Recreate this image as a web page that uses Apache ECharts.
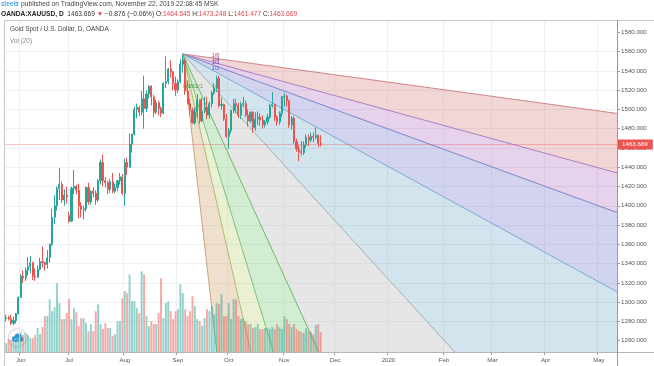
<!DOCTYPE html>
<html><head><meta charset="utf-8">
<script src="https://cdn.jsdelivr.net/npm/echarts@6/dist/echarts.min.js"></script>
<style>html,body{margin:0;padding:0;background:#fff}#c{width:654px;height:366px}</style>
</head><body><div id="c"></div>
<script>
// ---------------- data ----------------
const startDate = '2019-05-24';
const barCount = 253;
const monthNames = ['Jan','Feb','Mar','Apr','May','Jun','Jul','Aug','Sep','Oct','Nov','Dec'];
const priceTicks = [1260,1280,1300,1320,1340,1360,1380,1400,1420,1440,1460,1480,1500,1520,1540,1560,1580];

const opens = [1283,1284,1283,1278,1281,1288,1305,1327,1325,1333,1337,1341,1327,1326,1334,1342,1341,1339,1346,1360,
1388,1400,1418,1422,1406,1411,1390,1384,1418,1420,1416,1400,1396,1397,1419,1404,1415,1413,1406,1426,
1445,1426,1424,1417,1425,1415,1419,1426,1430,1413,1445,1440,1464,1474,1500,1502,1497,1511,1501,1516,
1524,1513,1497,1507,1501,1496,1527,1529,1542,1539,1527,1520,1529,1547,1551,1519,1506,1499,1486,1497,
1510,1488,1498,1502,1494,1506,1517,1522,1532,1504,1505,1490,1472,1478,1499,1506,1504,1494,1505,1506,
1494,1488,1497,1481,1490,1492,1489,1484,1487,1492,1504,1505,1492,1487,1496,1513,1514,1509,1484,1491,
1467,1459,1456,1455,1463,1471,1468,1472,1471,1473,1464.545];
const highs = [1287,1286,1287,1285,1289,1306,1329,1333,1336,1347,1348,1342,1335,1338,1346,1358,1342,1354,1361,1397,
1411,1420,1439,1425,1417,1420,1394,1420,1437,1422,1423,1404,1400,1420,1424,1416,1419,1416,1428,1448,
1453,1430,1426,1428,1434,1423,1427,1434,1433,1449,1450,1475,1475,1503,1506,1504,1519,1535,1520,1525,
1525,1515,1510,1509,1503,1528,1555,1543,1551,1540,1534,1531,1552,1557,1552,1530,1511,1502,1502,1516,
1510,1512,1513,1513,1508,1519,1527,1535,1535,1512,1506,1495,1481,1500,1511,1511,1507,1508,1513,1509,
1500,1498,1498,1497,1498,1496,1494,1489,1495,1506,1518,1506,1494,1498,1514,1517,1515,1510,1493,1493,
1470,1463,1467,1467,1474,1474,1476,1476,1481,1474,1473.248];
const lows = [1280,1281,1276,1276,1278,1287,1304,1320,1322,1328,1330,1323,1322,1325,1333,1336,1333,1335,1341,1358,
1381,1395,1406,1403,1400,1402,1382,1383,1412,1412,1387,1388,1386,1394,1401,1401,1409,1401,1404,1422,
1420,1419,1412,1413,1413,1413,1415,1422,1411,1400,1432,1440,1455,1473,1491,1493,1494,1480,1497,1511,
1504,1492,1495,1494,1492,1495,1522,1526,1533,1520,1514,1517,1527,1538,1515,1505,1494,1485,1484,1491,
1485,1487,1496,1490,1490,1502,1515,1518,1502,1500,1488,1470,1459,1475,1496,1496,1491,1490,1502,1492,
1482,1486,1476,1478,1484,1483,1480,1481,1484,1490,1502,1488,1483,1484,1492,1503,1503,1481,1479,1464,
1456,1446,1452,1453,1460,1462,1466,1466,1469,1461,1461.477];
const closes = [1284,1283,1278,1281,1288,1305,1327,1325,1333,1337,1341,1327,1326,1334,1342,1341,1339,1346,1360,1388,
1400,1418,1422,1406,1411,1409,1384,1418,1420,1416,1400,1396,1397,1419,1404,1415,1413,1406,1426,1445,
1426,1424,1417,1425,1415,1419,1426,1430,1413,1445,1440,1464,1474,1500,1502,1497,1511,1501,1516,1524,
1513,1497,1507,1501,1496,1527,1529,1542,1539,1527,1520,1529,1547,1551,1519,1506,1499,1486,1497,1510,
1488,1498,1502,1494,1506,1517,1522,1532,1504,1505,1490,1472,1478,1499,1506,1504,1494,1505,1506,1494,
1488,1497,1481,1490,1492,1489,1484,1487,1492,1504,1505,1492,1487,1496,1513,1514,1509,1484,1491,1467,
1459,1456,1455,1463,1471,1468,1472,1471,1473,1464.5,1463.669];
const volumes = [27,39,36,48,42,54,60,51,57,51,42,42,51,72,54,75,108,108,159,123,
135,207,147,99,99,117,159,99,132,120,78,102,102,87,63,84,63,123,144,84,
69,87,72,72,48,54,93,93,162,183,177,234,153,153,132,117,243,234,108,78,
93,84,84,117,222,102,147,153,123,99,123,129,204,177,129,108,123,168,138,99,
93,78,102,129,123,138,114,147,144,174,108,108,147,99,159,159,108,99,102,93,
84,84,72,75,84,69,69,72,72,69,75,69,84,75,69,108,99,84,75,84,
69,63,60,57,72,63,60,54,81,84,60];

const lastPrice = 1463.669;
// Gann fan: anchor at the Sep 4 high, 1x1 slope in price per bar
const fanOriginDate = '2019-09-04';
const fanOriginPrice = 1557.5;
const fanSlope = 2.75;
const fanCtrlBars = 13.5;
const fanRatios = [8,4,3,2,1,1/2,1/3,1/4,1/8];
const fanNames = ['8/1','4/1','3/1','2/1','1/1','1/2','1/3','1/4','1/8'];
const fanLineColors = ['#c8a47e','#b0ba72','#7cc27c','#6cb86c','#a2b0b4','#7fa9cc','#7d84cc','#ab7fc2','#cf8585'];
const fanLabelColors = ['#5aa85a','#5aa85a','#5aa85a','#5aa85a','#5aa85a','#4a64c8','#6a4ac0','#8a4ab0','#c04a6a'];
const fanFillColors = ['rgba(195,145,72,0.28)','rgba(178,205,92,0.28)','rgba(98,192,98,0.28)','rgba(165,165,165,0.28)',
  'rgba(92,158,192,0.28)','rgba(92,98,198,0.28)','rgba(158,85,178,0.26)','rgba(205,92,92,0.26)'];

// ---------------- layout ----------------
const PANE = {left:5, right:37, top:20, bottom:14};
const FONT = 'Liberation Sans';

function buildDates(start, n){
  const out=[]; const d=new Date(start+'T00:00:00Z');
  while(out.length<n){ const w=d.getUTCDay(); if(w!==0&&w!==6) out.push(d.toISOString().slice(0,10)); d.setUTCDate(d.getUTCDate()+1); }
  return out;
}
const dates = buildDates(startDate, barCount);
const isMonthStart = dates.map((d,i)=> i>0 && d.slice(5,7)!==dates[i-1].slice(5,7));
const fanBar = dates.indexOf(fanOriginDate);

function clipPoly(pts, xmin, ymin, xmax, ymax){
  const planes=[[0,xmin,1],[0,xmax,-1],[1,ymin,1],[1,ymax,-1]];
  let out=pts;
  for(const [ax,v,s] of planes){
    const inp=out; out=[]; if(!inp.length) break;
    for(let i=0;i<inp.length;i++){
      const a=inp[i], b=inp[(i+1)%inp.length];
      const ina=s*(a[ax]-v)>=0, inb=s*(b[ax]-v)>=0;
      if(ina) out.push(a);
      if(ina!==inb){ const t=(v-a[ax])/(b[ax]-a[ax]); out.push([a[0]+t*(b[0]-a[0]), a[1]+t*(b[1]-a[1])]); }
    }
  }
  return out;
}
function clipSeg(a,b,xmin,ymin,xmax,ymax){
  let t0=0,t1=1; const dx=b[0]-a[0], dy=b[1]-a[1];
  const p=[-dx,dx,-dy,dy], q=[a[0]-xmin,xmax-a[0],a[1]-ymin,ymax-a[1]];
  for(let i=0;i<4;i++){
    if(p[i]===0){ if(q[i]<0) return null; }
    else { const t=q[i]/p[i]; if(p[i]<0){ if(t>t1) return null; if(t>t0) t0=t; } else { if(t<t0) return null; if(t<t1) t1=t; } }
  }
  return [[a[0]+t0*dx,a[1]+t0*dy],[a[0]+t1*dx,a[1]+t1*dy]];
}

const candleData = opens.map((o,i)=>[o, closes[i], lows[i], highs[i]]);
const volData = volumes.map((v,i)=>({value:v, itemStyle:{color: closes[i]>=opens[i] ? 'rgba(38,166,154,0.5)' : 'rgba(239,83,80,0.5)'}}));

const chart = echarts.init(document.getElementById('c'), null, {renderer:'canvas'});
chart.setOption({
  animation:false,
  backgroundColor:'#fff',
  textStyle:{fontFamily:FONT},
  grid:[
    {left:PANE.left, right:PANE.right, top:13, bottom:6},
    {left:PANE.left, right:PANE.right, top:PANE.top, bottom:PANE.bottom}
  ],
  xAxis:[
    {type:'category', gridIndex:0, data:dates, show:false},
    {type:'category', gridIndex:1, data:dates,
      axisLine:{show:false},
      axisTick:{show:true, length:3, interval:(i)=>isMonthStart[i], lineStyle:{color:'#999'}},
      axisLabel:{interval:(i)=>isMonthStart[i], fontSize:6, color:'#555', margin:5, fontFamily:FONT,
        formatter:(v)=> v.slice(5,7)==='01' ? v.slice(0,4) : monthNames[+v.slice(5,7)-1]},
      splitLine:{show:true, interval:(i)=>isMonthStart[i], lineStyle:{color:'#eef0f3', width:1}}
    }
  ],
  yAxis:[
    {type:'value', gridIndex:0, position:'right', min:1240, max:1600, interval:20,
      axisLine:{show:false},
      axisTick:{show:true, length:3, customValues:priceTicks, lineStyle:{color:'#999'}},
      axisLabel:{customValues:priceTicks, fontSize:6.2, color:'#555', margin:4, fontFamily:FONT,
        formatter:(v)=> (v<=1240||v>=1600) ? '' : v.toFixed(3)},
      splitLine:{show:true, showMinLine:false, showMaxLine:false, lineStyle:{color:'#eef0f3', width:1}}
    },
    {type:'value', gridIndex:1, min:0, max:1000, show:false, splitLine:{show:false}}
  ],
  series:[
    {
      type:'custom', xAxisIndex:0, yAxisIndex:0, z:1, silent:true,
      data:[[fanBar, fanOriginPrice]], encode:{x:0,y:1},
      renderItem:function(params, api){
        const o=api.coord([fanBar, fanOriginPrice]);
        const b=api.coord([fanBar+100, fanOriginPrice]);
        const p=api.coord([fanBar, fanOriginPrice-100]);
        const bpx=(b[0]-o[0])/100, ppx=(p[1]-o[1])/100;
        const xmin=PANE.left, xmax=api.getWidth()-PANE.right, ymin=PANE.top, ymax=api.getHeight()-PANE.bottom;
        const ext=400;
        const ends=fanRatios.map(r=>[o[0]+bpx*ext, o[1]+ppx*fanSlope*r*ext]);
        const children=[];
        for(let i=0;i<ends.length-1;i++){
          const poly=clipPoly([o,ends[i],ends[i+1]],xmin,ymin,xmax,ymax);
          if(poly.length>2) children.push({type:'polygon', shape:{points:poly}, style:{fill:fanFillColors[i]}});
        }
        ends.forEach((e,i)=>{
          const s=clipSeg(o,e,xmin,ymin,xmax,ymax);
          if(s) children.push({type:'line', shape:{x1:s[0][0],y1:s[0][1],x2:s[1][0],y2:s[1][1]}, style:{stroke:fanLineColors[i], lineWidth:1}});
        });
        fanRatios.forEach((r,i)=>{
          let x,y;
          if(r<=1){ x=o[0]+bpx*fanCtrlBars; y=o[1]+ppx*fanSlope*r*fanCtrlBars; }
          else { y=o[1]+ppx*fanSlope*fanCtrlBars; x=o[0]+bpx*fanCtrlBars/r; }
          children.push({type:'text', style:{text:fanNames[i], x:x, y:y, fill:fanLabelColors[i], fontSize:5.5, fontFamily:FONT,
            textAlign:'center', textVerticalAlign:'bottom', align:'center', verticalAlign:'bottom'}});
        });
        return {type:'group', children:children};
      }
    },
    {
      type:'bar', xAxisIndex:1, yAxisIndex:1, z:2, data:volData, barWidth:'80%', silent:true
    },
    {
      type:'candlestick', xAxisIndex:0, yAxisIndex:0, z:3, data:candleData, barWidth:1.6, silent:true,
      itemStyle:{color:'#26a69a', color0:'#ef5350', borderColor:'#26a69a', borderColor0:'#ef5350', borderWidth:1},
      markLine:{
        silent:true, symbol:'none', animation:false,
        lineStyle:{color:'rgba(239,83,80,0.35)', type:'solid', width:1},
        label:{show:true, position:'end', distance:0, formatter:()=>lastPrice.toFixed(3),
          backgroundColor:'#ef5350', color:'#ffffff', opacity:1, fontSize:6.2, fontFamily:FONT, padding:[2,5,2,5]},
        emphasis:{disabled:true},
        data:[{yAxis:lastPrice}]
      }
    }
  ],
  graphic:[
    {type:'line', shape:{x1:PANE.left, y1:PANE.top+0.5, x2:654, y2:PANE.top+0.5}, style:{stroke:'#c8c8c8', lineWidth:1}, z:10},
    {type:'line', shape:{x1:PANE.left-0.5, y1:PANE.top, x2:PANE.left-0.5, y2:366}, style:{stroke:'#c8c8c8', lineWidth:1}, z:10},
    {type:'line', shape:{x1:PANE.left, y1:366-PANE.bottom+0.5, x2:654, y2:366-PANE.bottom+0.5}, style:{stroke:'#b5b5b5', lineWidth:1}, z:10},
    {type:'line', shape:{x1:654-PANE.right+0.5, y1:PANE.top, x2:654-PANE.right+0.5, y2:366}, style:{stroke:'#9a9a9a', lineWidth:1}, z:10},
    {type:'text', x:1, y:4.5, z:10, style:{text:'{b|steeltr} published on TradingView.com, November 22, 2019 22:08:45 MSK',
      fill:'#444', fontSize:6.7, fontFamily:FONT, verticalAlign:'middle', rich:{b:{fill:'#2a8ae0', fontSize:6.7, fontFamily:FONT}}}},
    {type:'text', x:1, y:14, z:10, style:{text:'{k|OANDA:XAUUSD, D}  1463.669 {r|▼} −0.876 (−0.06%) O:{r|1464.545} H:{r|1473.248} L:{r|1461.477} C:{r|1463.669}',
      fill:'#333', fontSize:6.6, fontFamily:FONT, verticalAlign:'middle',
      rich:{k:{fill:'#222', fontWeight:'bold', fontSize:6.6, fontFamily:FONT}, r:{fill:'#e0474c', fontSize:6.6, fontFamily:FONT}}}},
    {type:'text', x:10, y:29, z:10, style:{text:'Gold Spot / U.S. Dollar, D, OANDA', fill:'#444', fontSize:6.4, fontFamily:FONT, verticalAlign:'middle'}},
    {type:'text', x:10, y:41.5, z:10, style:{text:'Vol (20)', fill:'#888', fontSize:6.4, fontFamily:FONT, verticalAlign:'middle'}},
    {type:'group', z:20, children:[
      {type:'circle', shape:{cx:17.5, cy:338, r:9}, style:{fill:'#fff', stroke:'#e2e2e2', lineWidth:1, shadowBlur:2, shadowColor:'rgba(0,0,0,0.15)'}},
      {type:'circle', shape:{cx:14.5, cy:339, r:2.6}, style:{fill:'#3d8fe2'}},
      {type:'circle', shape:{cx:18, cy:337, r:3.6}, style:{fill:'#3d8fe2'}},
      {type:'circle', shape:{cx:21.2, cy:339.3, r:2.3}, style:{fill:'#3d8fe2'}},
      {type:'rect', shape:{x:14.5, y:339, width:6.8, height:2.6}, style:{fill:'#3d8fe2'}},
      {type:'polyline', shape:{points:[[14,340],[16.5,338.5],[18.5,340],[21,338]]}, style:{stroke:'#fff', lineWidth:0.8, fill:null}}
    ]}
  ]
});
</script>
</body></html>
